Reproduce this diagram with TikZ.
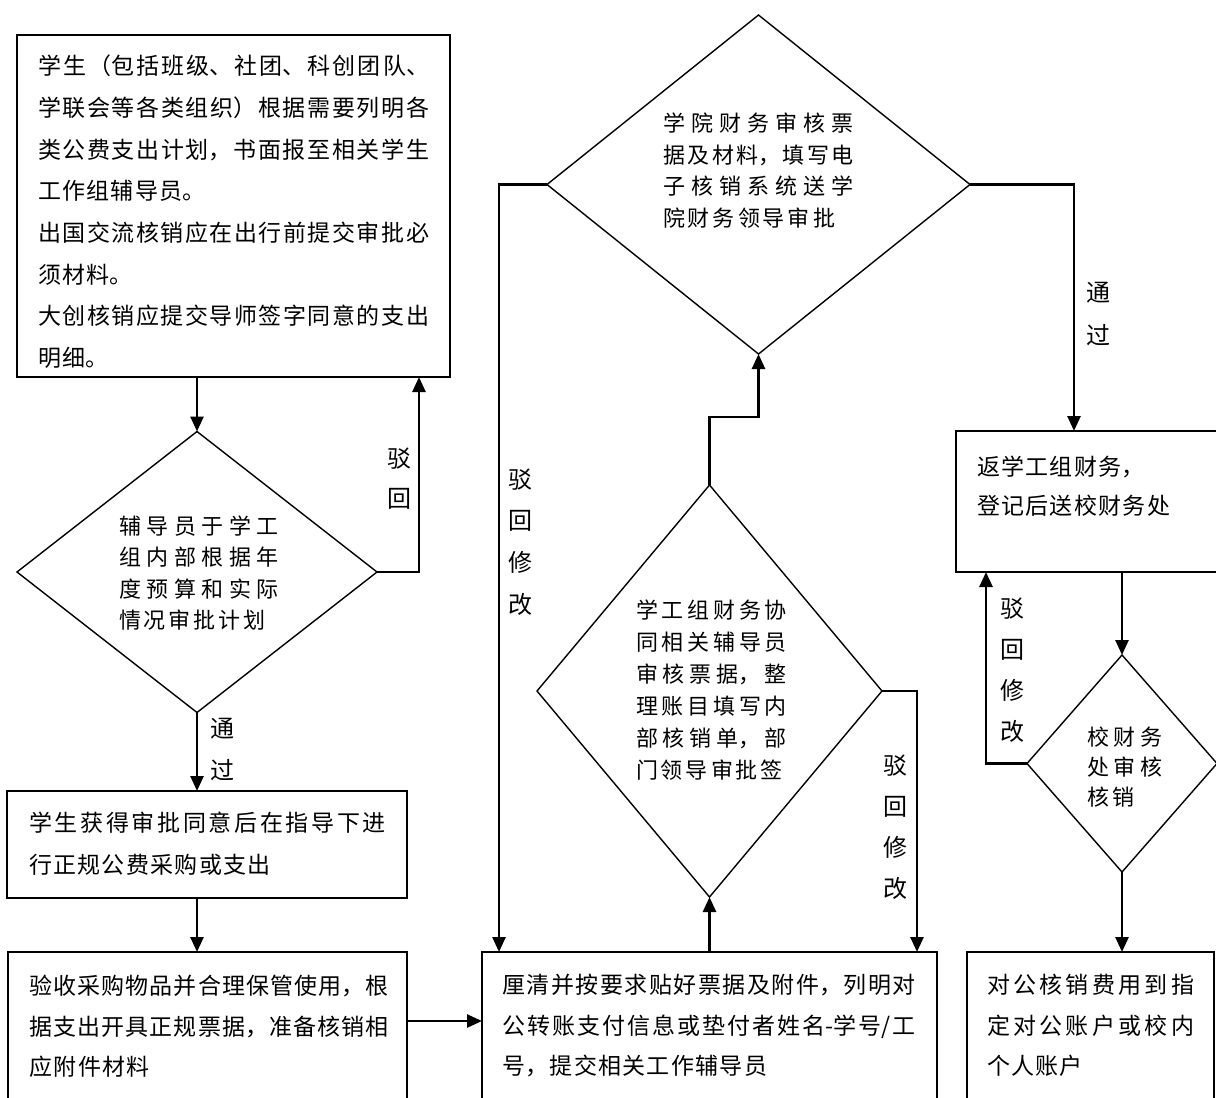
\documentclass[tikz,border=0pt]{standalone}
\usepackage{fontspec}
\setmainfont{Noto Sans CJK SC}
\usetikzlibrary{arrows.meta,shapes.geometric}
\XeTeXlinebreaklocale "zh"
\XeTeXlinebreakskip=0pt plus 1pt\relax
\newcommand\fsz[2]{\fontsize{#1pt}{#2pt}\selectfont}
\newcommand\gapbox{\XeTeXlinebreakskip=1.3pt plus 10pt minus 1pt\relax}
\newcommand\gapdia{\XeTeXlinebreakskip=3pt plus 10pt minus 2pt\relax}
\begin{document}
\begin{tikzpicture}[x=1pt,y=-1pt,
  boxshape/.style={draw, line width=1.8pt, rectangle, inner sep=0pt, outer sep=0pt, anchor=north west},
  diashape/.style={draw, line width=1.4pt, diamond, inner sep=0pt, outer sep=0pt},
  conn/.style={line width=2.6pt, -{Triangle[length=15pt,width=13pt]}},
  txt/.style={anchor=base west, inner sep=0pt, outer sep=0pt, align=justify, text width=#1pt},
  lbl/.style={anchor=base, inner sep=0pt, outer sep=0pt, align=center, text width=30pt, font=\fsz{24}{#1}},
]
\useasboundingbox (0,0) rectangle (1216,1098);
\fill[white] (0,0) rectangle (1216,1098);
\clip (0,0) rectangle (1216,1098);

% boxes
\node[boxshape, minimum width=433pt, minimum height=342pt] (b1) at (17,35) {};
\node[boxshape, minimum width=400pt, minimum height=107pt] (b2) at (7,791) {};
\node[boxshape, minimum width=399pt, minimum height=170pt] (b3) at (8,952) {};
\node[boxshape, minimum width=455pt, minimum height=170pt] (b4) at (482,952) {};
\node[boxshape, minimum width=247pt, minimum height=170pt] (b5) at (967,952) {};
\node[boxshape, minimum width=280pt, minimum height=141pt] (b6) at (956,431) {};

% diamonds
\node[diashape, minimum width=360pt, minimum height=281pt] (d1) at (197,572) {};
\node[diashape, minimum width=423pt, minimum height=339pt] (d2) at (758.5,184.5) {};
\node[diashape, minimum width=345pt, minimum height=412pt] (d3) at (709.5,691) {};
\node[diashape, minimum width=190pt, minimum height=217pt] (d4) at (1122,763.5) {};

% box texts
\node[txt=391, font=\fsz{23}{41.7}\gapbox] (t1) at (38,74.7) {学生（包括班级、社团、科创团队、\linebreak 学联会等各类组织）根据需要列明各\linebreak 类公费支出计划，书面报至相关学生\linebreak 工作组辅导员。\par 出国交流核销应在出行前提交审批必\linebreak 须材料。\par 大创核销应提交导师签字同意的支出\linebreak 明细。};
\node[txt=357, font=\fsz{23}{42}\gapbox] (t2) at (29,831.7) {学生获得审批同意后在指导下进\linebreak 行正规公费采购或支出};
\node[txt=359, font=\fsz{23}{40.5}\gapbox] (t3) at (29.5,994.7) {验收采购物品并合理保管使用，根\linebreak 据支出开具正规票据，准备核销相\linebreak 应附件材料};
\node[txt=413, font=\fsz{23}{40.5}\gapbox] (t4) at (502.5,993.7) {厘清并按要求贴好票据及附件，列明对\linebreak 公转账支付信息或垫付者姓名-学号/工\linebreak 号，提交相关工作辅导员};
\node[txt=207, font=\fsz{23}{40.5}\gapbox] (t5) at (987,993.7) {对公核销费用到指\linebreak 定对公账户或校内\linebreak 个人账户};
\node[txt=230, font=\fsz{23}{39}\gapbox] (t6) at (977,475.7) {返学工组财务，\par 登记后送校财务处};

% diamond texts
\node[txt=160, font=\fsz{22}{31.4}\gapdia] (td1) at (119,534.4) {辅导员于学工\linebreak 组内部根据年\linebreak 度预算和实际\linebreak 情况审批计划};
\node[txt=191, font=\fsz{22}{31.7}\gapdia] (td2) at (663,131.4) {学院财务审核票\linebreak 据及材料，填写电\linebreak 子核销系统送学\linebreak 院财务领导审批};
\node[txt=151, font=\fsz{22}{32}\gapdia] (td3) at (636,618.4) {学工组财务协\linebreak 同相关辅导员\linebreak 审核票据，整\linebreak 理账目填写内\linebreak 部核销单，部\linebreak 门领导审批签};
\node[txt=75, font=\fsz{22}{30}\gapdia] (td4) at (1087,745.4) {校财务\linebreak 处审核\linebreak 核销};

% connector labels
\node[lbl=40] (l1) at (399,467.1) {驳\\回};
\node[lbl=42] (l2) at (222,737.1) {通\\过};
\node[lbl=41.7] (l3) at (520,488.1) {驳\\回\\修\\改};
\node[lbl=41] (l4) at (895,774.1) {驳\\回\\修\\改};
\node[lbl=43] (l5) at (1098,301.1) {通\\过};
\node[lbl=41] (l6) at (1012,617.1) {驳\\回\\修\\改};

% connectors
\draw[conn] (d1.north |- b1.south) -- (d1.north);
\draw[conn] (d1.east) -| ([xshift=-31pt]b1.south east);
\draw[conn] (d1.south) -- (d1.south |- b2.north);
\draw[conn] (d1.south |- b2.south) -- (d1.south |- b3.north);
\draw[conn] ([yshift=-69pt]b3.north east) -- ([yshift=-69pt]b4.north west);
\draw[conn] (d3.south |- b4.north) -- (d3.south);
\draw[conn] (d3.north) -- ++(0,-68) -| (d2.south);
\draw[conn] (d2.west) -| ([xshift=17pt]b4.north west);
\draw[conn] (d2.east) -| ([xshift=118pt]b6.north west);
\draw[conn] (d3.east) -| ([xshift=-20pt]b4.north east);
\draw[conn] (d4.north |- b6.south) -- (d4.north);
\draw[conn] (d4.west) -| ([xshift=30pt]b6.south west);
\draw[conn] (d4.south) -- (d4.south |- b5.north);
\end{tikzpicture}
\end{document}
